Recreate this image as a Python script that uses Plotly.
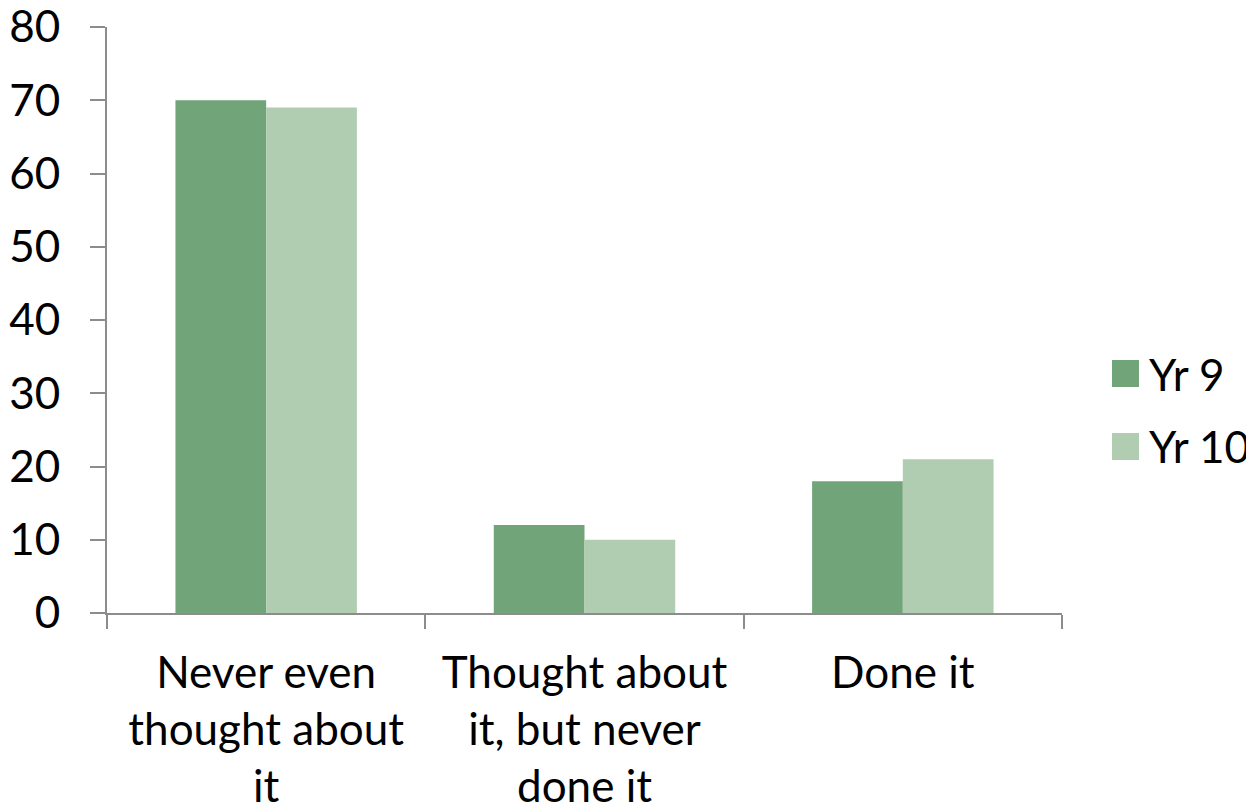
import plotly.graph_objects as go

categories = ["Never even<br>thought about<br>it", "Thought about<br>it, but never<br>done it", "Done it"]
series_names = ["Yr 9", "Yr 10"]
yr9 = [70, 12, 18]
yr10 = [69, 10, 21]
y_ticks = [0, 10, 20, 30, 40, 50, 60, 70, 80]
colors = ["#72A479", "#B0CDB2"]

FONT = "Lato"
FS = 44
AXIS_COLOR = "#8c8c8c"

OFF = 8  # page body margin
W, H = 1254 - OFF, 812 - OFF
L, T = 107 - OFF, 27 - OFF
PW, PH = 955, 586
R, B = W - L - PW, H - T - PH

fig = go.Figure()
for name, vals, col in zip(series_names, [yr9, yr10], colors):
    fig.add_trace(go.Bar(name=name, x=categories, y=vals,
                         marker=dict(color=col, line=dict(width=0)), showlegend=False))

# manual legend (larger swatches, as in reference); screen-pixel helpers
def px2paper_x(px):
    return (px - OFF - L) / PW

def px2paper_y(py):
    return (H - B - (py - OFF)) / PH

leg_tops = [360, 433]
for name, col, top in zip(series_names, colors, leg_tops):
    fig.add_shape(type="rect", xref="paper", yref="paper",
                  x0=px2paper_x(1112), x1=px2paper_x(1139),
                  y0=px2paper_y(top + 27), y1=px2paper_y(top),
                  fillcolor=col, line=dict(width=0))
    fig.add_annotation(xref="paper", yref="paper", x=px2paper_x(1147), y=px2paper_y(top + 13.5),
                       xanchor="left", yanchor="middle", text=name, showarrow=False,
                       font=dict(family=FONT, size=FS, color="black"))

fig.update_layout(
    width=W, height=H,
    margin=dict(l=L, r=R, t=T, b=B, autoexpand=False),
    paper_bgcolor="white", plot_bgcolor="white",
    barmode="group", bargap=0.43, bargroupgap=0,
    font=dict(family=FONT, size=FS, color="black"),
)
fig.update_xaxes(
    showline=True, linecolor=AXIS_COLOR, linewidth=2, automargin=False,
    ticks="outside", tickson="boundaries", ticklen=14, tickcolor=AXIS_COLOR, tickwidth=2,
    showgrid=False, tickfont=dict(family=FONT, size=FS), ticklabelstandoff=20,
    ticklabeloverflow="allow",
)
fig.update_yaxes(
    range=[0, 80], tickvals=y_ticks, showline=True, linecolor=AXIS_COLOR, linewidth=2,
    ticks="outside", ticklen=15, tickcolor=AXIS_COLOR, tickwidth=2, automargin=False,
    showgrid=False, zeroline=False, ticklabelstandoff=21, ticklabeloverflow="allow",
    tickfont=dict(family=FONT, size=FS),
)

fig.write_html("out.html")
